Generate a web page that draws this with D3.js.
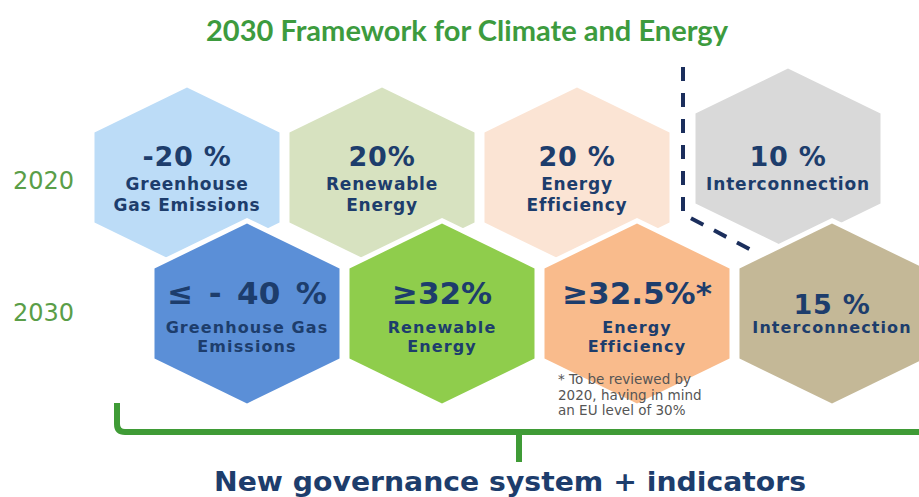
<!DOCTYPE html>
<html>
<head>
<meta charset="utf-8">
<script src="https://cdn.jsdelivr.net/npm/d3@7"></script>
<style>
    html, body { margin: 0; padding: 0; background: #fff; }
    svg { display: block; }
    .value, .label { font-family: "DejaVu Sans", Verdana, sans-serif; font-weight: bold; fill: #1d3d6c; text-anchor: middle; }
    .year { font-family: "DejaVu Sans", Verdana, sans-serif; fill: #5a9e48; font-size: 24px; }
    .note { font-family: "DejaVu Sans", Verdana, sans-serif; fill: #555; font-size: 13.5px; }
</style>
</head>
<body>
<svg id="chart" width="919" height="497"></svg>
<script>
/*globals d3*/

var categories = ["Greenhouse Gas Emissions", "Renewable Energy", "Energy Efficiency", "Interconnection"];
var years = ["2020", "2030"];
var targets2020 = ["-20 %", "20%", "20 %", "10 %"];
var targets2030 = ["\u2264\u2002-\u200240\u2002%", "\u226532%", "\u226532.5%*", "15 %"];
var labels2020 = [["Greenhouse", "Gas Emissions"], ["Renewable", "Energy"], ["Energy", "Efficiency"], ["Interconnection"]];
var labels2030 = [["Greenhouse Gas", "Emissions"], ["Renewable", "Energy"], ["Energy", "Efficiency"], ["Interconnection"]];
var footnote = ["* To be reviewed by", "2020, having in mind", "an EU level of 30%"];

(function () {
    "use strict";

    var svg = d3.select("#chart"),
        hw = 92.5,   // half width of a hex
        hh = 90,     // half height (to the point)
        hs = 45,     // half length of the flat side
        x2020,
        x2030,
        y,
        fill2020,
        fill2030,
        line = d3.line(),
        rows;

    x2020 = d3.scalePoint().domain(categories).range([187, 772]);
    x2030 = d3.scalePoint().domain(categories).range([247, 832]);
    y = d3.scalePoint().domain(years).range([177.5, 313.5]);

    fill2020 = d3.scaleOrdinal().domain(categories)
        .range(["#bcdcf7", "#d7e2c0", "#fbe4d4", "#d9d9d9"]);
    fill2030 = d3.scaleOrdinal().domain(categories)
        .range(["#5b8fd7", "#8fcd4c", "#f9bb8c", "#c4b897"]);

    function hex(cx, cy) {
        return line([[cx, cy - hh], [cx + hw, cy - hs], [cx + hw, cy + hs],
            [cx, cy + hh], [cx - hw, cy + hs], [cx - hw, cy - hs]]) + "Z";
    }

    // the interconnection target sits apart from the others
    function pos(year, c) {
        if (year === "2020") {
            return c === "Interconnection" ? [x2020(c) + 16, y(year) - 19] : [x2020(c), y(year)];
        }
        return [x2030(c), y(year)];
    }

    rows = [
        {year: "2020", values: targets2020, labels: labels2020, fill: fill2020},
        {year: "2030", values: targets2030, labels: labels2030, fill: fill2030}
    ];

    // title
    svg.append("text")
        .attr("x", 467)
        .attr("y", 41)
        .attr("text-anchor", "middle")
        .attr("textLength", 522)
        .attr("lengthAdjust", "spacingAndGlyphs")
        .style("font-family", "Lato, 'Noto Sans', sans-serif")
        .style("font-weight", "bold")
        .style("font-size", "28px")
        .style("fill", "#3d9b3e")
        .text("2030 Framework for Climate and Energy");

    // year labels
    svg.selectAll("text.year").data(years)
        .enter().append("text")
        .attr("class", "year")
        .attr("x", 13)
        .attr("y", function (d) { return y(d) + (d === "2020" ? 11.5 : 7.5); })
        .text(function (d) { return d; });

    function drawRow(row, i) {
        var g = svg.append("g").attr("class", "row-" + row.year);

        g.selectAll("path").data(categories)
            .enter().append("path")
            .attr("d", function (c) { var p = pos(row.year, c); return hex(p[0], p[1]); })
            .style("fill", function (c) { return row.fill(c); })
            .style("stroke", i === 0 ? "none" : "#fff")
            .style("stroke-width", 10)
            .style("paint-order", "stroke");

        g.selectAll("text.value").data(categories)
            .enter().append("text")
            .attr("class", "value")
            .attr("x", function (c) { return pos(row.year, c)[0]; })
            .attr("y", function (c, j) {
                if (i === 0) {
                    return y(row.year) - 11.5;
                }
                return y(row.year) + (j < 3 ? -10 : 0);
            })
            .style("font-size", function (c, j) { return (i === 1 && j < 3) ? "31px" : "27px"; })
            .style("letter-spacing", function (c, j) { return (i === 1 && j < 3) ? "0px" : "0.8px"; })
            .text(function (c, j) { return row.values[j]; });

        g.selectAll("text.label").data(categories)
            .enter().append("text")
            .attr("class", "label")
            .attr("x", function (c) { return pos(row.year, c)[0]; })
            .attr("y", function () { return y(row.year) + (i === 0 ? 12.5 : 19.5); })
            .style("font-size", i === 0 ? "17px" : "16px")
            .style("letter-spacing", i === 0 ? "0.8px" : "1.1px")
            .selectAll("tspan")
            .data(function (c, j) { return row.labels[j]; })
            .enter().append("tspan")
            .attr("x", function () { return d3.select(this.parentNode).attr("x"); })
            .attr("dy", function (d, k) { return k === 0 ? 0 : (i === 0 ? 21 : 19); })
            .text(function (d) { return d; });
    }

    drawRow(rows[0], 0);

    // dashed separator between the interconnection target and the rest
    svg.append("path")
        .attr("d", line([[683, 67], [683, 214], [755, 252]]))
        .style("fill", "none")
        .style("stroke", "#1b2e5c")
        .style("stroke-width", 4)
        .style("stroke-dasharray", "14,12");

    drawRow(rows[1], 1);

    // footnote under the efficiency target
    svg.append("text")
        .attr("class", "note")
        .attr("x", 558)
        .attr("y", 384)
        .selectAll("tspan").data(footnote)
        .enter().append("tspan")
        .attr("x", 558)
        .attr("dy", function (d, k) { return k === 0 ? 0 : 15.5; })
        .text(function (d) { return d; });

    // bracket
    svg.append("path")
        .attr("d", "M117,403 L117,424 Q117,432 125,432 L919,432 M519,432 L519,462")
        .style("fill", "none")
        .style("stroke", "#3f9b36")
        .style("stroke-width", 6);

    svg.append("text")
        .attr("x", 510)
        .attr("y", 491)
        .attr("text-anchor", "middle")
        .attr("textLength", 592)
        .attr("lengthAdjust", "spacingAndGlyphs")
        .style("font-family", "'DejaVu Sans', sans-serif")
        .style("font-weight", "bold")
        .style("font-size", "27px")
        .style("fill", "#1d3d6c")
        .text("New governance system + indicators");
}());
</script>
</body>
</html>
